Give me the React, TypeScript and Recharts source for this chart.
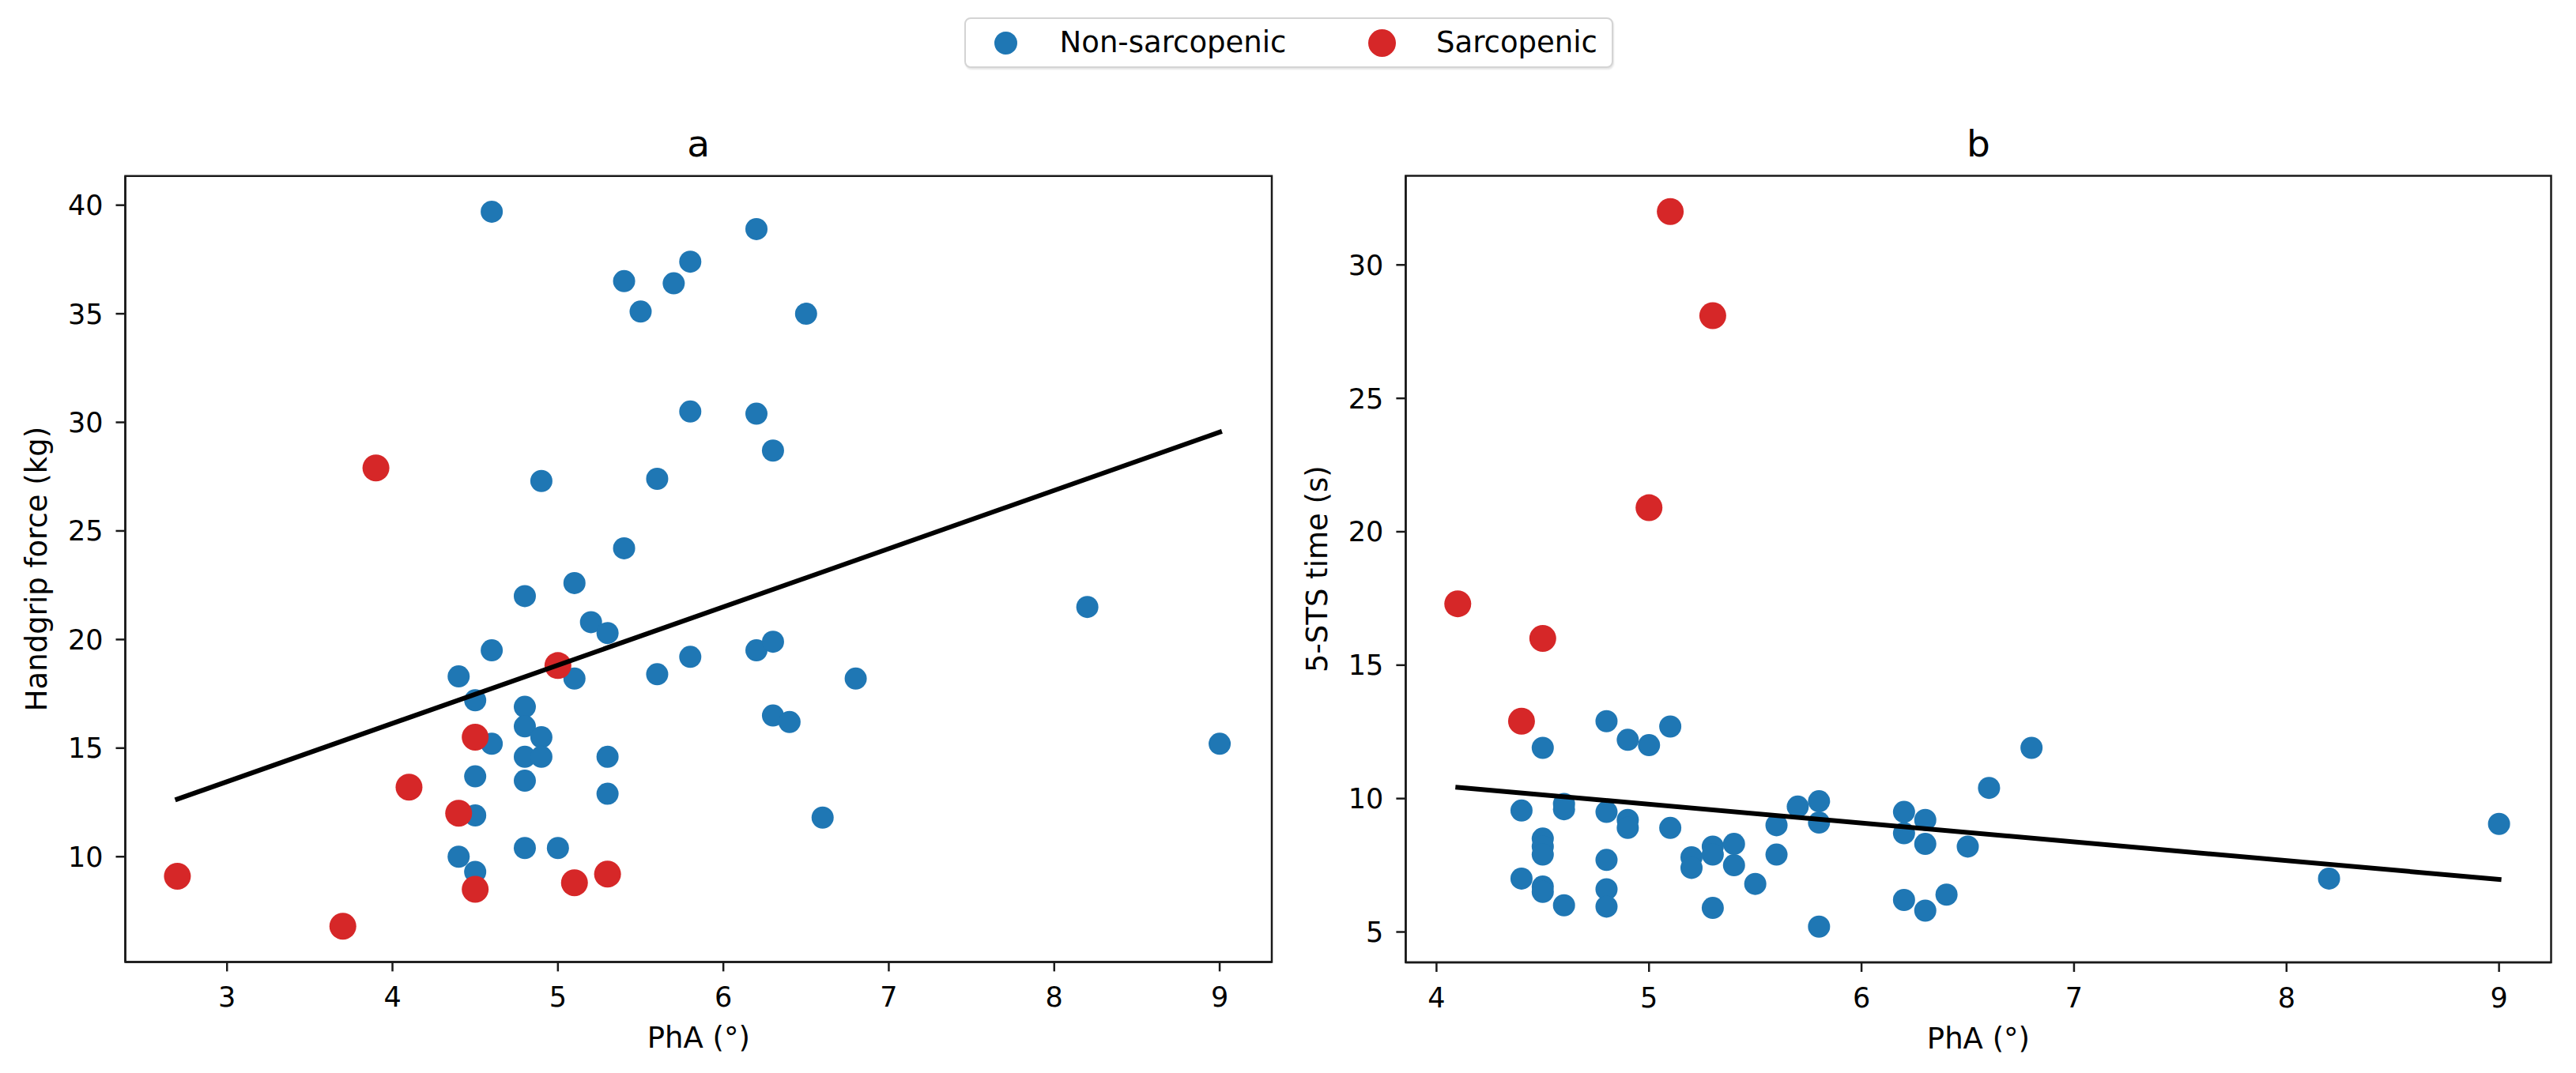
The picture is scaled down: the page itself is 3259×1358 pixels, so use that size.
import React from 'react';
import { ScatterChart, Scatter, XAxis, YAxis, ReferenceArea, Legend } from 'recharts';

const BLUE = '#1f77b4';
const RED = '#d62728';
const INK = '#000000';
const FONT = "'DejaVu Sans', sans-serif";

// ---------- Panel a : PhA vs Handgrip force ----------
const aNonSarcopenic = [
  { pha: 4.6, grip: 39.7 }, { pha: 6.2, grip: 38.9 }, { pha: 5.8, grip: 37.4 }, { pha: 5.4, grip: 36.5 },
  { pha: 5.7, grip: 36.4 }, { pha: 5.5, grip: 35.1 }, { pha: 6.5, grip: 35.0 }, { pha: 5.8, grip: 30.5 },
  { pha: 6.2, grip: 30.4 }, { pha: 6.3, grip: 28.7 }, { pha: 4.9, grip: 27.3 }, { pha: 5.6, grip: 27.4 },
  { pha: 5.4, grip: 24.2 }, { pha: 5.1, grip: 22.6 }, { pha: 4.8, grip: 22.0 }, { pha: 5.2, grip: 20.8 },
  { pha: 5.3, grip: 20.3 }, { pha: 4.6, grip: 19.5 }, { pha: 6.2, grip: 19.5 }, { pha: 6.3, grip: 19.9 },
  { pha: 5.8, grip: 19.2 }, { pha: 4.4, grip: 18.3 }, { pha: 5.1, grip: 18.2 }, { pha: 5.6, grip: 18.4 },
  { pha: 6.8, grip: 18.2 }, { pha: 4.5, grip: 17.2 }, { pha: 4.8, grip: 16.9 }, { pha: 6.3, grip: 16.5 },
  { pha: 6.4, grip: 16.2 }, { pha: 4.8, grip: 16.0 }, { pha: 4.9, grip: 15.5 }, { pha: 4.6, grip: 15.2 },
  { pha: 4.8, grip: 14.6 }, { pha: 4.9, grip: 14.6 }, { pha: 5.3, grip: 14.6 }, { pha: 4.5, grip: 13.7 },
  { pha: 4.8, grip: 13.5 }, { pha: 5.3, grip: 12.9 }, { pha: 4.5, grip: 11.9 }, { pha: 6.6, grip: 11.8 },
  { pha: 4.8, grip: 10.4 }, { pha: 5.0, grip: 10.4 }, { pha: 4.4, grip: 10.0 }, { pha: 4.5, grip: 9.3 },
  { pha: 8.2, grip: 21.5 }, { pha: 9.0, grip: 15.2 },
];
const aSarcopenic = [
  { pha: 3.9, grip: 27.9 }, { pha: 4.1, grip: 13.2 }, { pha: 2.7, grip: 9.1 }, { pha: 3.7, grip: 6.8 },
  { pha: 5.0, grip: 18.8 }, { pha: 4.5, grip: 15.5 }, { pha: 4.4, grip: 12.0 }, { pha: 4.5, grip: 8.5 },
  { pha: 5.1, grip: 8.8 }, { pha: 5.3, grip: 9.2 },
];
const aFit = [{ pha: 2.7, grip: 12.65 }, { pha: 9.0, grip: 29.55 }];
const aXTicks = [3, 4, 5, 6, 7, 8, 9];
const aYTicks = [10, 15, 20, 25, 30, 35, 40];

// ---------- Panel b : PhA vs 5-STS time ----------
const bNonSarcopenic = [
  { pha: 4.5, sts: 11.9 }, { pha: 4.8, sts: 12.9 }, { pha: 4.9, sts: 12.2 }, { pha: 5.0, sts: 12.0 },
  { pha: 5.1, sts: 12.7 }, { pha: 4.4, sts: 9.55 }, { pha: 4.6, sts: 9.8 }, { pha: 4.6, sts: 9.6 },
  { pha: 4.8, sts: 9.5 }, { pha: 4.9, sts: 9.2 }, { pha: 4.9, sts: 8.9 }, { pha: 5.1, sts: 8.9 },
  { pha: 4.5, sts: 8.5 }, { pha: 4.5, sts: 8.2 }, { pha: 4.5, sts: 7.9 }, { pha: 4.8, sts: 7.7 },
  { pha: 4.4, sts: 7.0 }, { pha: 4.5, sts: 6.7 }, { pha: 4.5, sts: 6.5 }, { pha: 4.6, sts: 6.0 },
  { pha: 4.8, sts: 6.6 }, { pha: 4.8, sts: 5.95 }, { pha: 5.2, sts: 7.8 }, { pha: 5.2, sts: 7.4 },
  { pha: 5.3, sts: 8.2 }, { pha: 5.3, sts: 7.9 }, { pha: 5.4, sts: 8.3 }, { pha: 5.4, sts: 7.5 },
  { pha: 5.5, sts: 6.8 }, { pha: 5.3, sts: 5.9 }, { pha: 5.6, sts: 9.0 }, { pha: 5.6, sts: 7.9 },
  { pha: 5.7, sts: 9.7 }, { pha: 5.8, sts: 9.9 }, { pha: 5.8, sts: 9.1 }, { pha: 5.8, sts: 5.2 },
  { pha: 6.2, sts: 9.5 }, { pha: 6.3, sts: 9.2 }, { pha: 6.2, sts: 8.7 }, { pha: 6.3, sts: 8.3 },
  { pha: 6.5, sts: 8.2 }, { pha: 6.6, sts: 10.4 }, { pha: 6.8, sts: 11.9 }, { pha: 6.2, sts: 6.2 },
  { pha: 6.3, sts: 5.8 }, { pha: 6.4, sts: 6.4 }, { pha: 8.2, sts: 7.0 }, { pha: 9.0, sts: 9.05 },
];
const bSarcopenic = [
  { pha: 5.1, sts: 32.0 }, { pha: 5.3, sts: 28.1 }, { pha: 5.0, sts: 20.9 }, { pha: 4.1, sts: 17.3 },
  { pha: 4.5, sts: 16.0 }, { pha: 4.4, sts: 12.9 },
];
const bFit = [{ pha: 4.1, sts: 10.42 }, { pha: 9.0, sts: 6.97 }];
const bXTicks = [4, 5, 6, 7, 8, 9];
const bYTicks = [5, 10, 15, 20, 25, 30];

const legendLabels = ['Non-sarcopenic', 'Sarcopenic'];

const makeDot = (r: number, color: string) => (p: any) => (
  <circle cx={p.cx} cy={p.cy} r={r} fill={color} />
);
const noDot = () => <g />;

type PanelProps = {
  left: number;
  width: number;
  margin: { top: number; right: number; bottom: number; left: number };
  yKey: string;
  blue: any[];
  red: any[];
  fit: any[];
  xDomain: [number, number];
  yDomain: [number, number];
  xTicks: number[];
  yTicks: number[];
  title: string;
  yLabel: string;
};

const SPINE = '#1a1a1a';

function Panel(p: PanelProps) {
  const tickStyle = { fill: INK, fontSize: 35, fontFamily: FONT };
  return (
    <div style={{ position: 'absolute', left: p.left, top: 0 }}>
      <ScatterChart width={p.width} height={1358} margin={p.margin}>
        <XAxis
          type="number"
          dataKey="pha"
          domain={p.xDomain}
          ticks={p.xTicks}
          interval={0}
          allowDataOverflow
          height={100}
          tickSize={12}
          tickMargin={20}
          tick={tickStyle}
          axisLine={{ stroke: SPINE, strokeWidth: 2.5 }}
          tickLine={{ stroke: SPINE, strokeWidth: 2.5 }}
          label={{ value: 'PhA (°)', position: 'insideTop', offset: 82.6, fill: INK, fontSize: 37, fontFamily: FONT }}
        />
        <YAxis
          type="number"
          dataKey={p.yKey}
          domain={p.yDomain}
          ticks={p.yTicks}
          interval={0}
          allowDataOverflow
          width={120}
          tickSize={12}
          tickMargin={16}
          tick={tickStyle}
          axisLine={{ stroke: SPINE, strokeWidth: 2.5 }}
          tickLine={{ stroke: SPINE, strokeWidth: 2.5 }}
          label={{
            content: (lp: any) => {
              const vb = lp.viewBox || {};
              const cx = (vb.x || 0) + 8.5;
              const cy = (vb.y || 0) + (vb.height || 0) / 2;
              return (
                <text
                  x={cx}
                  y={cy}
                  transform={`rotate(-90 ${cx} ${cy})`}
                  textAnchor="middle"
                  dominantBaseline="central"
                  fill={INK}
                  fontSize={37}
                  fontFamily={FONT}
                >
                  {p.yLabel}
                </text>
              );
            },
          }}
        />
        <ReferenceArea
          x1={p.xDomain[0]}
          x2={p.xDomain[1]}
          y1={p.yDomain[0]}
          y2={p.yDomain[1]}
          fill="none"
          fillOpacity={0}
          stroke={SPINE}
          strokeWidth={2.5}
          ifOverflow="visible"
          label={{ value: p.title, position: 'top', offset: 25, fill: INK, fontSize: 47, fontFamily: FONT }}
        />
        <Scatter name="Non-sarcopenic" data={p.blue} fill={BLUE} shape={makeDot(14, BLUE)} isAnimationActive={false} />
        <Scatter name="Sarcopenic" data={p.red} fill={RED} shape={makeDot(17, RED)} isAnimationActive={false} />
        <Scatter
          name="fit"
          data={p.fit}
          fill={INK}
          stroke={INK}
          strokeWidth={6}
          legendType="none"
          shape={noDot}
          line={{ stroke: INK, strokeWidth: 6, strokeLinecap: 'square' }}
          isAnimationActive={false}
        />
      </ScatterChart>
    </div>
  );
}

const legendPos = [
  { dot: 52, r: 14.5, text: 120.6 },
  { dot: 528, r: 17.5, text: 597 },
];

function LegendBox(props: any) {
  const payload = (props.payload || []).filter((e: any) => e.type !== 'none');
  return (
    <div
      style={{
        position: 'relative',
        width: 821,
        height: 64,
        boxSizing: 'border-box',
        border: '2px solid #d4d4d4',
        borderRadius: 8,
        background: '#ffffff',
        boxShadow: '1px 2px 2px rgba(0,0,0,0.10)',
      }}
    >
      {payload.map((e: any, i: number) => {
        const pos = legendPos[i] || legendPos[0];
        return (
          <React.Fragment key={i}>
            <div
              style={{
                position: 'absolute',
                left: pos.dot - pos.r - 2,
                top: 30 - pos.r,
                width: pos.r * 2,
                height: pos.r * 2,
                borderRadius: '50%',
                background: e.color,
              }}
            />
            <div
              style={{
                position: 'absolute',
                left: pos.text - 2,
                top: 0,
                height: 60,
                lineHeight: '60px',
                fontSize: 37,
                fontFamily: FONT,
                color: INK,
                whiteSpace: 'nowrap',
              }}
            >
              {e.value}
            </div>
          </React.Fragment>
        );
      })}
    </div>
  );
}

function LegendChart() {
  return (
    <div style={{ position: 'absolute', left: 1220, top: 22 }}>
      <ScatterChart width={822} height={140} margin={{ top: 0, right: 0, bottom: 0, left: 0 }}>
        <XAxis type="number" dataKey="pha" hide domain={[0, 1]} />
        <YAxis type="number" dataKey="grip" hide domain={[0, 1]} />
        <Scatter name={legendLabels[0]} data={[]} fill={BLUE} isAnimationActive={false} />
        <Scatter name={legendLabels[1]} data={[]} fill={RED} isAnimationActive={false} />
        <Legend verticalAlign="top" align="left" content={LegendBox} wrapperStyle={{ top: 0, left: 0, width: 822 }} />
      </ScatterChart>
    </div>
  );
}

export default function App() {
  return (
    <div style={{ position: 'absolute', left: 0, top: 0, width: 3259, height: 1358, background: '#ffffff', overflow: 'hidden' }}>
      <Panel
        left={0}
        width={1620}
        margin={{ top: 222.7, right: 11, bottom: 40.6, left: 38.5 }}
        yKey="grip"
        blue={aNonSarcopenic}
        red={aSarcopenic}
        fit={aFit}
        xDomain={[2.385, 9.315]}
        yDomain={[5.155, 41.345]}
        xTicks={aXTicks}
        yTicks={aYTicks}
        title="a"
        yLabel="Handgrip force (kg)"
      />
      <Panel
        left={1620}
        width={1639}
        margin={{ top: 222.5, right: 31.5, bottom: 40, left: 38.4 }}
        yKey="sts"
        blue={bNonSarcopenic}
        red={bSarcopenic}
        fit={bFit}
        xDomain={[3.855, 9.245]}
        yDomain={[3.86, 33.34]}
        xTicks={bXTicks}
        yTicks={bYTicks}
        title="b"
        yLabel="5-STS time (s)"
      />
      <LegendChart />
    </div>
  );
}
